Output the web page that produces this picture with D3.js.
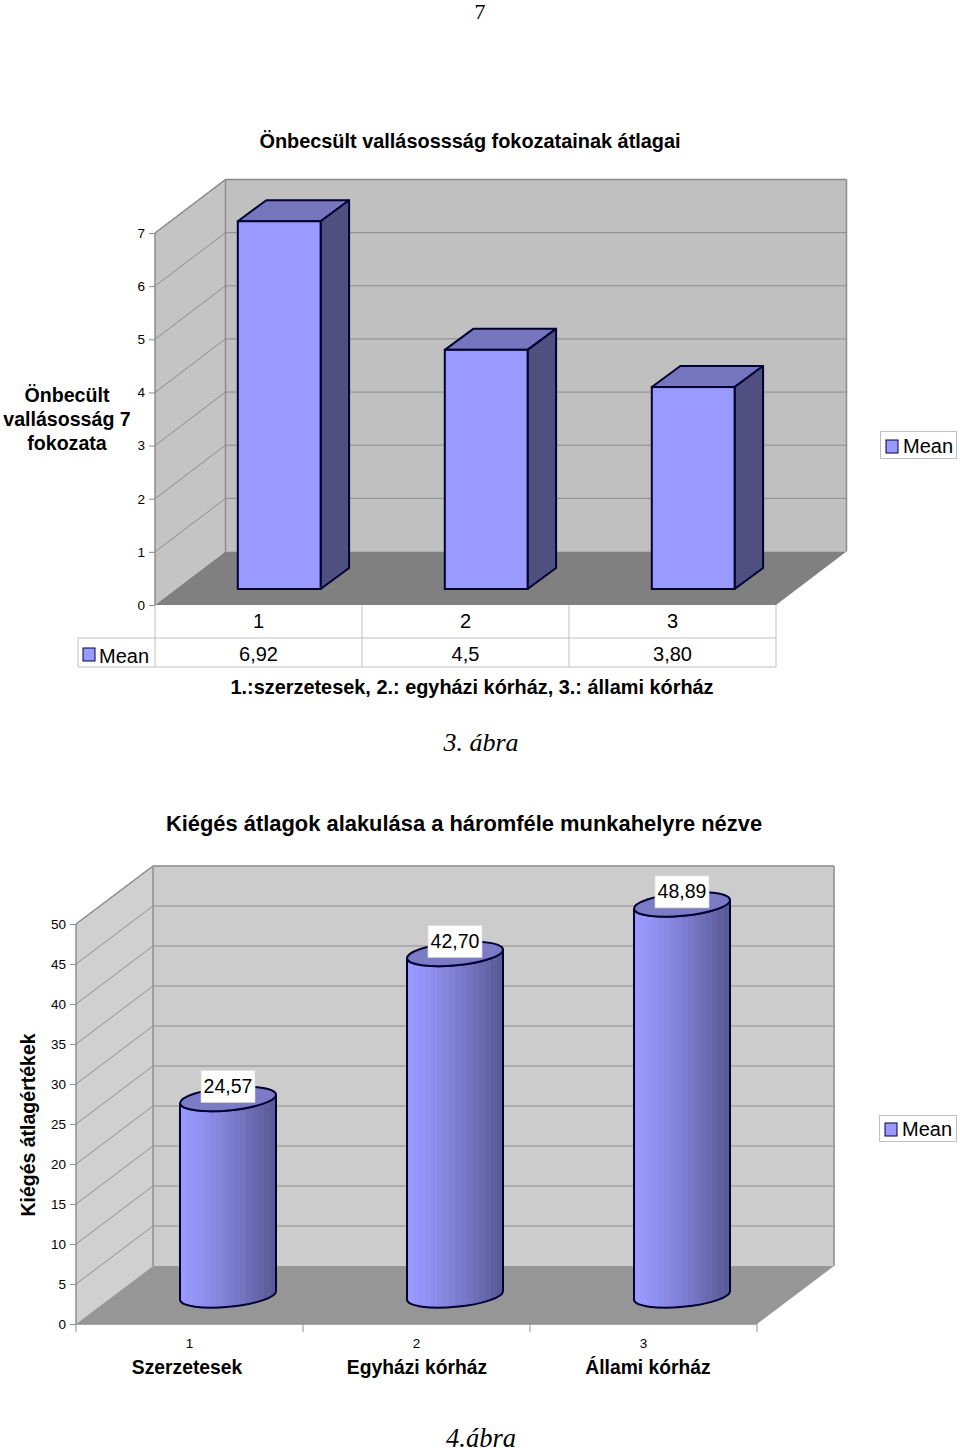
<!DOCTYPE html>
<html><head><meta charset="utf-8">
<script src="https://cdn.jsdelivr.net/npm/d3@7/dist/d3.min.js"></script>
<style>html,body{margin:0;padding:0;background:#fff}svg{display:block}text{font-family:"Liberation Sans",Arial,sans-serif;fill:#000}.serif{font-family:"Liberation Serif",serif}</style>
</head><body><svg id="c" width="960" height="1448"></svg>
<script>
const categories1 = ["1","2","3"];
const values1 = [6.92,4.5,3.8];
const tableLabels1 = ["6,92","4,5","3,80"];
const ticks1 = [0,1,2,3,4,5,6,7];
const categories2 = ["1","2","3"];
const names2 = ["Szerzetesek","Egyházi kórház","Állami kórház"];
const values2 = [24.57,42.70,48.89];
const labels2 = ["24,57","42,70","48,89"];
const ticks2 = [0,5,10,15,20,25,30,35,40,45,50];

const svg = d3.select("#c");
const txt=(x,y,s,size,o={})=>svg.append("text").attr("x",x).attr("y",y).attr("text-anchor",o.anchor||"middle")
  .attr("font-size",size).attr("font-weight",o.bold?"bold":null).attr("font-style",o.italic?"italic":null)
  .attr("class",o.serif?"serif":null).text(s);
const poly=(pts,fill,stroke,w)=>svg.append("polygon").attr("points",pts.map(p=>p.join(",")).join(" "))
  .attr("fill",fill).attr("stroke",stroke||"none").attr("stroke-width",w||1).attr("stroke-linejoin","round");
const line=(x1,y1,x2,y2,c,w)=>svg.append("line").attr("x1",x1).attr("y1",y1).attr("x2",x2).attr("y2",y2).attr("stroke",c).attr("stroke-width",w||1);

txt(480,18.5,"7",22,{serif:true});
txt(470,148,"Önbecsült vallásossság fokozatainak átlagai",19.9,{bold:true});

// ---------- chart 1
{
 const y=d3.scaleLinear().domain([0,7]).range([605,233]);
 const x=d3.scaleBand().domain(categories1).range([155,776]);
 const dx=70.5,dy=-53.5,bdx=28.5,bdy=-21, y0=589;
 const top=y(7),bot=y(0),L=x.range()[0],R=x.range()[1];
 poly([[L,bot],[L,top],[L+dx,top+dy],[L+dx,bot+dy]],"#c4c4c4");
 poly([[L+dx,top+dy],[R+dx,top+dy],[R+dx,bot+dy],[L+dx,bot+dy]],"#c0c0c0");
 ticks1.slice(1).forEach(t=>{line(L,y(t),L+dx,y(t)+dy,"#8c8c8c");line(L+dx,y(t)+dy,R+dx,y(t)+dy,"#8c8c8c");});
 poly([[L,bot],[L+dx,bot+dy],[R+dx,bot+dy],[R,bot]],"#808080");
 line(L,top,L,bot,"#8c8c8c",1.5);line(L,top,L+dx,top+dy,"#8c8c8c",1.5);
 line(L+dx,top+dy,L+dx,bot+dy,"#8c8c8c",1.5);line(L+dx,top+dy,R+dx,top+dy,"#8c8c8c",1.5);line(R+dx,top+dy,R+dx,bot+dy,"#8c8c8c",1.5);
 const ax=svg.append("g").attr("transform",`translate(${L},0)`).call(d3.axisLeft(y).tickValues(ticks1).tickFormat(d3.format("d")).tickSize(6).tickPadding(4));
 ax.select(".domain").remove();ax.selectAll("line").attr("stroke","#8c8c8c");
 ax.selectAll("text").attr("font-size",13.5).attr("font-family",'"Liberation Sans"').attr("fill","#000");
 values1.forEach((v,i)=>{
  const bw=x.bandwidth()*0.4,x0=x(categories1[i])+x.bandwidth()*0.4,x1=x0+bw,h=y(0)-y(v),t=y0-h;
  poly([[x0,t],[x0+bdx,t+bdy],[x1+bdx,t+bdy],[x1,t]],"#7676bf","#000033",2);
  poly([[x1,t],[x1+bdx,t+bdy],[x1+bdx,y0+bdy],[x1,y0]],"#4f4f80","#000033",2);
  svg.append("rect").attr("x",x0).attr("y",t).attr("width",bw).attr("height",h).attr("fill","#9999ff").attr("stroke","#000033").attr("stroke-width",2);
 });
 // data table
 const tc="#c0c0c0";
 x.domain().forEach(c=>line(x(c),605,x(c),667,tc));line(R,605,R,667,tc);
 line(78,638,R,638,tc);line(78,667,R,667,tc);line(78,638,78,667,tc);
 categories1.forEach((c,i)=>{
  txt(x(c)+x.bandwidth()*.5,628,c,20);
  txt(x(c)+x.bandwidth()*.5,661,tableLabels1[i],20);
 });
 svg.append("rect").attr("x",83).attr("y",648).attr("width",12).attr("height",13).attr("fill","#9999ff").attr("stroke","#000033").attr("stroke-width",1);
 txt(99,663,"Mean",20,{anchor:"start"});
 txt(472,694,"1.:szerzetesek, 2.: egyházi kórház, 3.: állami kórház",19.9,{bold:true});
 txt(67,402,"Önbecült",19.6,{bold:true});txt(67,426,"vallásosság 7",19.6,{bold:true});txt(67,450,"fokozata",19.6,{bold:true});
 svg.append("rect").attr("x",880.5).attr("y",431.5).attr("width",76).attr("height",27).attr("fill","#fff").attr("stroke","#c0c0c0");
 svg.append("rect").attr("x",886).attr("y",440).attr("width",12).attr("height",13).attr("fill","#9999ff").attr("stroke","#000033");
 txt(903,453,"Mean",20,{anchor:"start"});
}
txt(481,751,"3. ábra",26,{serif:true,italic:true});
txt(464,831,"Kiégés átlagok alakulása a háromféle munkahelyre nézve",21.9,{bold:true});

// ---------- chart 2
{
 const y=d3.scaleLinear().domain([0,50]).range([1324,924]);
 const x=d3.scaleBand().domain(categories2).range([76,757]);
 const dx=77,dy=-58,base=1295.5,ry=11.5;
 const top=y(50),bot=y(0),L=76,R=757,gc="#8f8f8f";
 poly([[L,bot],[L,top],[L+dx,top+dy],[L+dx,bot+dy]],"#d0d0d0");
 poly([[L+dx,top+dy],[R+dx,top+dy],[R+dx,bot+dy],[L+dx,bot+dy]],"#cccccc");
 ticks2.slice(1).forEach(t=>{line(L,y(t),L+dx,y(t)+dy,gc);line(L+dx,y(t)+dy,R+dx,y(t)+dy,gc);});
 poly([[L,bot],[L+dx,bot+dy],[R+dx,bot+dy],[R,bot]],"#969696");
 line(L,top,L,bot,gc,1.5);line(L,top,L+dx,top+dy,gc,1.5);
 line(L+dx,top+dy,L+dx,bot+dy,gc,1.5);line(L+dx,top+dy,R+dx,top+dy,"#a0a0a0",2);line(R+dx,top+dy,R+dx,bot+dy,"#a0a0a0",2);
 line(L,bot,R,bot,gc,1.5);
 const ax=svg.append("g").attr("transform",`translate(${L},0)`).call(d3.axisLeft(y).tickValues(ticks2).tickSize(6).tickPadding(4));
 ax.select(".domain").remove();ax.selectAll("line").attr("stroke",gc);
 ax.selectAll("text").attr("font-size",13.5).attr("font-family",'"Liberation Sans"').attr("fill","#000");
 x.domain().concat(["end"]).forEach(c=>{const px=c==="end"?R:x(c);line(px,bot,px,bot+8,gc);});
 // stepped gradient
 const defs=svg.append("defs");
 const g=defs.append("linearGradient").attr("id","cyl");
 const col=d3.interpolateRgb("#9999ff","#5a5a96");
 const n=16;
 d3.range(n).forEach(i=>{
  const k=i/n,c=col(Math.pow(i/(n-1),1.25));
  g.append("stop").attr("offset",k).attr("stop-color",c);
  g.append("stop").attr("offset",(i+1)/n).attr("stop-color",c);
 });
 const tilt=Math.atan2(9,96);
 const deg=-tilt*180/Math.PI;
 values2.forEach((v,i)=>{
  const bw=x.bandwidth()*96/227,cx=x(categories2[i])+x.bandwidth()*104/227+bw/2;
  const h=y(0)-y(v),t=base-h;
  const cosT=Math.cos(tilt),sinT=Math.sin(tilt),hw=bw/2;
  const lx=cx-hw,rxx=cx+hw,ly0=base+hw*sinT,ry0=base-hw*sinT,ly1=t+hw*sinT,ry1=t-hw*sinT;
  const a=hw/cosT;
  svg.append("path").attr("d",`M${lx},${ly1}L${lx},${ly0}A${a},${ry} ${deg} 0 0 ${rxx},${ry0}L${rxx},${ry1}A${a},${ry} ${deg} 0 1 ${lx},${ly1}Z`)
   .attr("fill","url(#cyl)").attr("stroke","#000033").attr("stroke-width",2);
  svg.append("ellipse").attr("cx",0).attr("cy",0).attr("rx",a).attr("ry",ry)
   .attr("transform",`translate(${cx},${t}) rotate(${deg})`)
   .attr("fill","#7b7bc6").attr("stroke","#000033").attr("stroke-width",2);
  const by=t-12.5;
  svg.append("rect").attr("x",cx-27).attr("y",by-16).attr("width",54).attr("height",32).attr("fill","#fff").attr("stroke","#d8d8d8").attr("stroke-width",.7);
  txt(cx,by+6.5,labels2[i],19.5);
  txt(x(categories2[i])+x.bandwidth()*.5,1348,categories2[i],13.5);
 });
 [[187,0],[417,1],[648,2]].forEach(([px,i])=>txt(px,1374,names2[i],19.3,{bold:true}));
 svg.append("text").attr("transform","translate(35,1125) rotate(-90)").attr("text-anchor","middle").attr("font-size",19.5).attr("font-weight","bold").text("Kiégés átlagértékek");
 svg.append("rect").attr("x",879.5).attr("y",1115.5).attr("width",77).attr("height",26).attr("fill","#fff").attr("stroke","#c0c0c0");
 svg.append("rect").attr("x",885).attr("y",1123).attr("width",12).attr("height",13).attr("fill","#9999ff").attr("stroke","#000033");
 txt(902,1136,"Mean",20,{anchor:"start"});
}
txt(481,1447,"4.ábra",26.5,{serif:true,italic:true});
</script></body></html>
